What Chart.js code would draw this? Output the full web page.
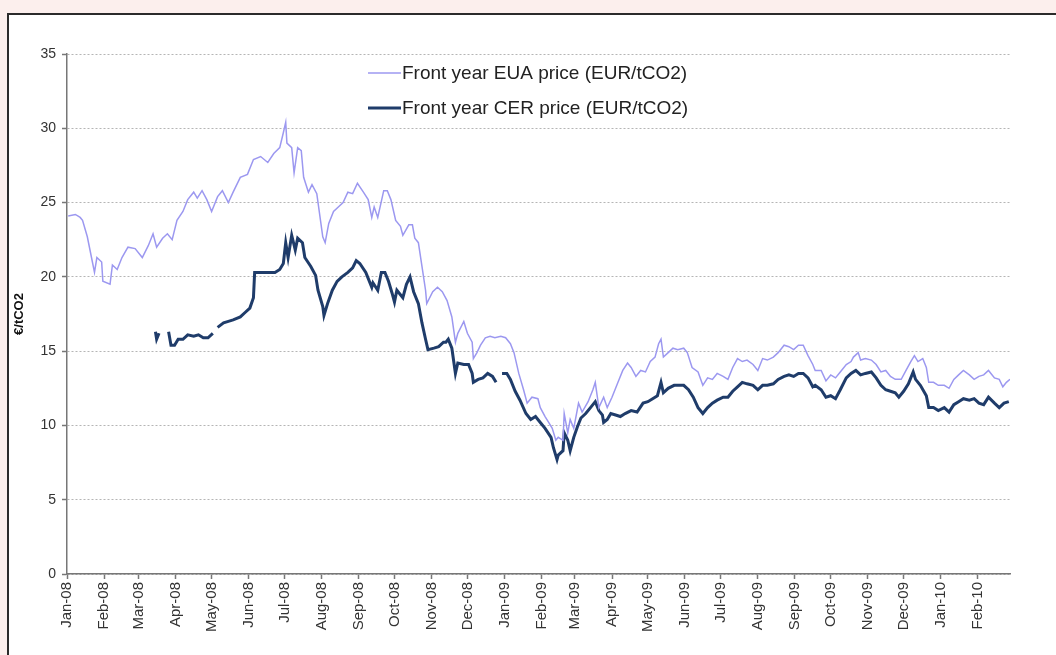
<!DOCTYPE html>
<html>
<head>
<meta charset="utf-8">
<script src="https://cdn.jsdelivr.net/npm/chart.js@4.4.1/dist/chart.umd.min.js"></script>
<style>
  html, body { margin: 0; padding: 0; background: #fcefed; overflow: hidden; }
  #panel { position: absolute; left: 7px; top: 13px; width: 1070px; height: 680px; background: #fff; border: 2px solid #2b2b2b; }
  #wrap { position: absolute; left: 0; top: 0; width: 1056px; height: 655px; }
</style>
</head>
<body>
<div id="panel"></div>
<div id="wrap"><canvas id="myChart" width="1056" height="655"></canvas></div>
<script>
// month tick positions (days since 1 Jan 2008) and their labels
const monthStarts = [0, 31, 60, 91, 121, 152, 182, 213, 244, 274, 305, 335,
  366, 397, 425, 456, 486, 517, 547, 578, 609, 639, 670, 700, 731, 762];
const monthLabels = ["Jan-08", "Feb-08", "Mar-08", "Apr-08", "May-08", "Jun-08", "Jul-08", "Aug-08",
  "Sep-08", "Oct-08", "Nov-08", "Dec-08", "Jan-09", "Feb-09", "Mar-09", "Apr-09", "May-09", "Jun-09",
  "Jul-09", "Aug-09", "Sep-09", "Oct-09", "Nov-09", "Dec-09", "Jan-10", "Feb-10"];

// Front year EUA price
const euaDays = [1, 7, 11, 13, 17, 21, 23, 25, 29, 30, 36, 38, 42, 46, 51, 57, 63, 68, 72, 75,
  80, 84, 88, 92, 97, 101, 106, 109, 113, 117, 121, 126, 130, 135, 139, 145, 151, 156, 162, 168,
  173, 178, 181, 183, 184, 188, 190, 193, 196, 198, 202, 205, 209, 214, 216, 219, 223, 227, 231, 235,
  239, 243, 248, 252, 255, 257, 260, 265, 268, 271, 275, 279, 281, 286, 289, 291, 294, 297, 300, 301,
  306, 310, 314, 318, 322, 325, 327, 332, 335, 339, 340, 343, 346, 350, 354, 358, 363, 367, 371, 374,
  378, 382, 385, 389, 394, 396, 400, 403, 406, 409, 411, 415, 416, 419, 421, 424, 428, 431, 436, 440,
  442, 445, 449, 452, 456, 461, 465, 469, 472, 476, 480, 484, 488, 492, 495, 497, 499, 503, 507, 511,
  516, 519, 523, 528, 532, 536, 540, 544, 549, 553, 557, 561, 565, 569, 574, 578, 582, 586, 591, 595,
  600, 604, 608, 612, 616, 620, 624, 626, 631, 635, 639, 643, 647, 652, 656, 658, 662, 664, 668, 673,
  677, 681, 685, 689, 693, 698, 702, 706, 709, 712, 716, 719, 721, 725, 729, 734, 738, 742, 746, 750,
  755, 759, 763, 767, 771, 776, 780, 783, 786, 789];
const euaPrices = [24.1, 24.2, 24.0, 23.8, 22.7, 21.1, 20.3, 21.3, 21.0, 19.7, 19.5, 20.8, 20.5, 21.3, 22.0, 21.9, 21.3, 22.1, 22.9, 22.0,
  22.6, 22.9, 22.5, 23.8, 24.4, 25.2, 25.7, 25.3, 25.8, 25.2, 24.4, 25.4, 25.8, 25.0, 25.7, 26.7, 26.9, 27.9, 28.1, 27.7,
  28.3, 28.7, 29.7, 30.4, 29.0, 28.7, 27.0, 28.7, 28.5, 26.7, 25.7, 26.2, 25.6, 22.7, 22.3, 23.6, 24.4, 24.7, 25.0, 25.7,
  25.6, 26.3, 25.7, 25.2, 24.0, 24.7, 24.0, 25.8, 25.8, 25.2, 23.8, 23.4, 22.8, 23.5, 23.5, 22.6, 22.3, 20.7, 19.1, 18.2,
  19.0, 19.3, 19.0, 18.4, 17.3, 15.6, 16.2, 17.0, 16.2, 15.6, 14.5, 14.9, 15.4, 15.9, 16.0, 15.9, 16.0, 15.9, 15.5, 14.9,
  13.5, 12.4, 11.5, 11.9, 11.8, 11.2, 10.6, 10.2, 9.8, 9.0, 9.2, 9.0, 10.8, 9.5, 10.4, 9.8, 11.5, 10.9, 11.6, 12.4,
  12.9, 11.2, 11.9, 11.2, 11.9, 12.9, 13.7, 14.2, 13.9, 13.3, 13.7, 13.6, 14.3, 14.6, 15.5, 15.8, 14.6, 14.9, 15.2, 15.1,
  15.2, 14.9, 13.9, 13.6, 12.7, 13.2, 13.1, 13.5, 13.3, 13.1, 13.9, 14.5, 14.3, 14.4, 14.1, 13.7, 14.5, 14.4, 14.6, 14.9,
  15.4, 15.3, 15.1, 15.4, 15.4, 14.7, 14.1, 13.7, 13.7, 13.0, 13.4, 13.2, 13.6, 14.1, 14.3, 14.6, 14.9, 14.4, 14.5, 14.4,
  14.1, 13.6, 13.7, 13.3, 13.1, 13.1, 13.7, 14.3, 14.7, 14.3, 14.5, 13.9, 12.9, 12.9, 12.7, 12.7, 12.5, 13.1, 13.4, 13.7,
  13.4, 13.1, 13.3, 13.4, 13.7, 13.2, 13.1, 12.6, 12.9, 13.1];

// Front year CER price (null = no quote, line breaks)
const cerDays = [74, 75, 77, 79, 85, 87, 90, 93, 97, 101, 106, 110, 114, 118, 122, 124, 126, 131, 135, 139,
  145, 149, 153, 156, 157, 162, 166, 170, 174, 178, 181, 183, 185, 188, 191, 193, 197, 199, 204, 208,
  210, 214, 215, 218, 222, 226, 230, 235, 239, 242, 245, 250, 252, 255, 256, 260, 263, 266, 269, 272,
  274, 276, 281, 284, 287, 290, 294, 297, 300, 302, 307, 311, 315, 317, 319, 322, 325, 327, 332, 336,
  339, 340, 344, 348, 352, 356, 359, 361, 364, 368, 371, 375, 379, 384, 388, 392, 396, 400, 405, 407,
  410, 411, 415, 416, 419, 421, 424, 427, 430, 434, 438, 442, 445, 448, 449, 452, 455, 459, 463, 467,
  472, 477, 482, 486, 490, 494, 497, 499, 503, 508, 512, 516, 520, 524, 528, 532, 536, 540, 544, 549,
  553, 557, 561, 565, 569, 574, 578, 582, 586, 591, 595, 600, 604, 608, 612, 616, 620, 624, 626, 631,
  635, 639, 643, 647, 652, 656, 660, 664, 668, 673, 677, 681, 685, 689, 693, 696, 700, 704, 708, 710,
  714, 719, 721, 725, 729, 734, 738, 742, 746, 750, 755, 759, 763, 767, 771, 776, 780, 784, 788];
const cerPrices = [16.3, 15.8, 16.2, null, 16.3, 15.4, 15.4, 15.8, 15.8, 16.1, 16.0, 16.1, 15.9, 15.9, 16.2, null, 16.6, 16.9, 17.0, 17.1,
  17.3, 17.6, 17.9, 18.6, 20.3, 20.3, 20.3, 20.3, 20.3, 20.5, 20.9, 22.3, 21.3, 22.8, 21.8, 22.6, 22.3, 21.3, 20.7, 20.1,
  19.1, 18.0, 17.4, 18.2, 19.1, 19.7, 20.0, 20.3, 20.6, 21.1, 20.9, 20.3, 19.9, 19.3, 19.6, 19.1, 20.3, 20.3, 19.7, 18.9,
  18.3, 19.1, 18.6, 19.5, 20.0, 19.0, 18.2, 16.9, 15.8, 15.1, 15.2, 15.3, 15.6, 15.6, 15.8, 15.2, 13.5, 14.2, 14.1, 14.1,
  13.5, 12.9, 13.1, 13.2, 13.5, 13.3, 12.9, null, 13.5, 13.5, 13.1, 12.3, 11.7, 10.8, 10.4, 10.6, 10.2, 9.8, 9.2, 8.5,
  7.7, 8.0, 8.3, 9.5, 9.0, 8.3, 9.2, 9.9, 10.5, 10.8, 11.2, 11.6, 11.0, 10.7, 10.2, 10.4, 10.8, 10.7, 10.6, 10.8,
  11.0, 10.9, 11.5, 11.6, 11.8, 12.0, 12.9, 12.2, 12.5, 12.7, 12.7, 12.7, 12.4, 11.9, 11.2, 10.8, 11.2, 11.5, 11.7, 11.9,
  11.9, 12.3, 12.6, 12.9, 12.8, 12.7, 12.4, 12.7, 12.7, 12.8, 13.1, 13.3, 13.4, 13.3, 13.5, 13.5, 13.2, 12.6, 12.7, 12.4,
  11.9, 12.0, 11.8, 12.4, 13.2, 13.5, 13.7, 13.4, 13.5, 13.6, 13.2, 12.7, 12.4, 12.3, 12.2, 11.9, 12.3, 12.8, 13.6, 13.1,
  12.7, 12.0, 11.2, 11.2, 11.0, 11.2, 10.9, 11.4, 11.6, 11.8, 11.7, 11.8, 11.5, 11.4, 11.9, 11.5, 11.2, 11.5, 11.6];

const yTicks = [0, 5, 10, 15, 20, 25, 30, 35];

const FONT = "'Liberation Sans', Arial, sans-serif";

// 범례를 차트 안쪽 위에 그림
const insideLegend = {
  id: "insideLegend",
  afterDraw(chart) {
    const c = chart.ctx;
    const area = chart.chartArea;
    c.save();
    c.font = "19px " + FONT;
    c.textBaseline = "middle";
    chart.data.datasets.forEach(function (ds, i) {
      const y = area.top + 19 + i * 35;
      const x0 = area.left + 301;
      c.strokeStyle = ds.borderColor;
      c.lineWidth = ds.borderWidth;
      c.beginPath();
      c.moveTo(x0, y);
      c.lineTo(x0 + 33, y);
      c.stroke();
      c.fillStyle = "#222";
      c.fillText(ds.label, x0 + 34, y + 1);
    });
    c.restore();
  },
};

const ctx = document.getElementById("myChart").getContext("2d");
const myChart = new Chart(ctx, {
  type: "line",
  data: {
    datasets: [
      {
        label: "Front year EUA price (EUR/tCO2)",
        data: euaDays.map((d, i) => ({ x: d, y: euaPrices[i] })),
        borderColor: "#9c98f0",
        borderWidth: 1.5,
        pointRadius: 0,
        tension: 0,
        fill: false,
      },
      {
        label: "Front year CER price (EUR/tCO2)",
        data: cerDays.map((d, i) => ({ x: d, y: cerPrices[i] })),
        borderColor: "#1f3c6a",
        borderWidth: 3,
        pointRadius: 0,
        tension: 0,
        fill: false,
        spanGaps: false,
      },
    ],
  },
  options: {
    responsive: false,
    animation: false,
    layout: { padding: { left: 0, top: 54, right: 46, bottom: 0 } },
    scales: {
      x: {
        type: "linear",
        min: 0,
        max: 789,
        afterBuildTicks: function (scale) {
          scale.ticks = monthStarts.map((v) => ({ value: v }));
        },
        afterFit: function (scale) {
          scale.height = 81;
        },
        grid: { drawOnChartArea: false, drawTicks: true, tickLength: 5, tickColor: "#777", tickWidth: 1.5 },
        border: { color: "#777", width: 1.5 },
        ticks: {
          autoSkip: false,
          minRotation: 90,
          maxRotation: 90,
          padding: 3,
          color: "#333",
          font: { family: FONT, size: 15 },
          callback: function (value, index) {
            return monthLabels[index];
          },
        },
      },
      y: {
        min: 0,
        max: 35,
        afterBuildTicks: function (scale) {
          scale.ticks = yTicks.map((v) => ({ value: v }));
        },
        afterFit: function (scale) {
          scale.width = 67;
        },
        grid: { color: "#b5b5b5", lineWidth: 1, tickLength: 5, tickColor: "#777", tickWidth: 1.5, tickBorderDash: [] },
        border: { color: "#777", width: 1.5, dash: [2, 2] },
        ticks: { padding: 6, color: "#333", font: { family: FONT, size: 14 } },
        title: {
          display: true,
          text: "€/tCO2",
          color: "#111",
          padding: { top: 12, bottom: 0 },
          font: { family: FONT, size: 13, weight: "bold" },
        },
      },
    },
    plugins: {
      legend: { display: false },
      tooltip: { enabled: false },
    },
  },
  plugins: [insideLegend],
});
</script>
</body>
</html>
